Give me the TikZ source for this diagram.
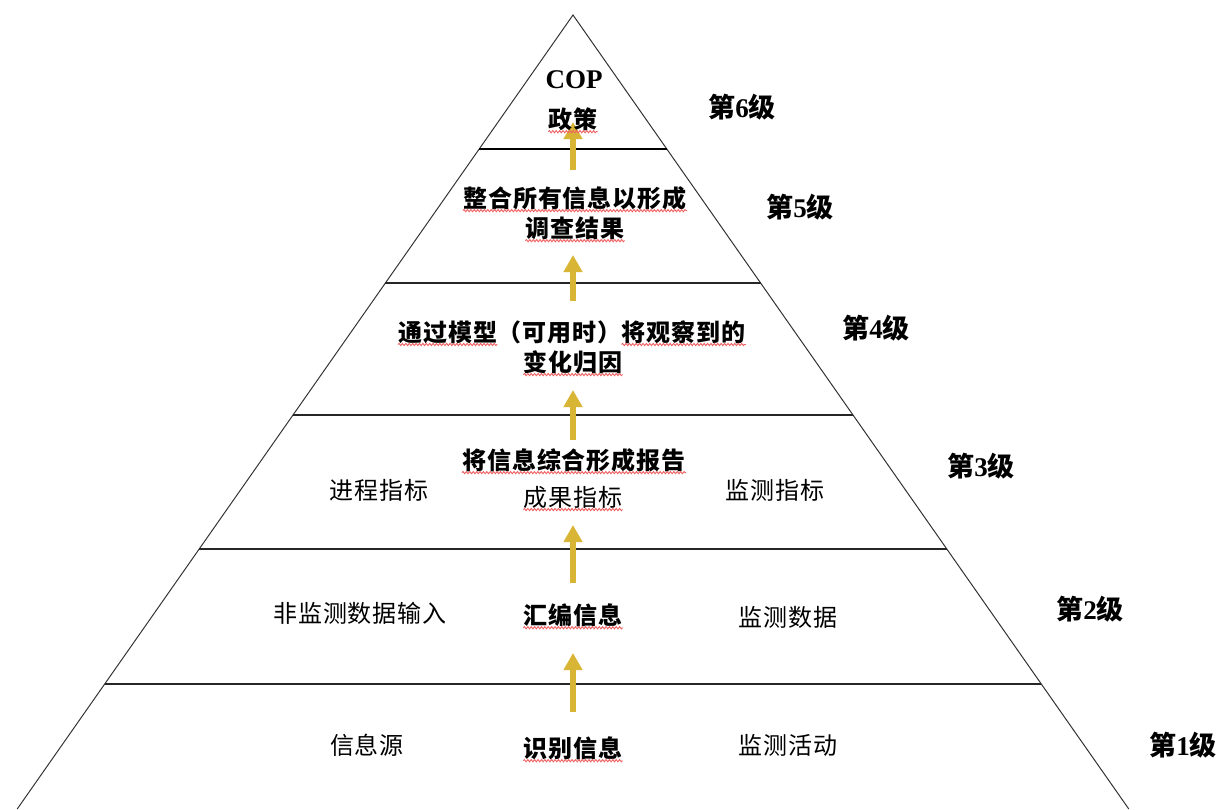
\documentclass[tikz,border=0pt]{standalone}
\usepackage{fontspec}
\newfontfamily\cjk{Noto Sans CJK SC}
\newfontfamily\cjksp{Noto Sans CJK SC}[LetterSpace=4]
\newfontfamily\tms{Liberation Serif}
\usetikzlibrary{arrows.meta,decorations.pathmorphing}
\definecolor{gold}{HTML}{D9B536}
\definecolor{squig}{HTML}{F06060}
\tikzset{
  txt/.style={inner sep=0pt, font=\cjksp\fontsize{24}{27}\selectfont},
  btxt/.style={inner sep=0pt, font=\cjksp\bfseries\fontsize{24}{27}\selectfont},
  lvl/.style={inner sep=0pt, font=\cjk\bfseries\fontsize{27}{30}\selectfont},
  edge/.style={line width=1pt, black!80},
  tier/.style={line width=1.8pt, black!85},
  uparrow/.style={gold, line width=6pt, -{Triangle[width=18pt,length=17pt]}},
  wavy/.style={squig, line width=0.9pt, decorate, decoration={snake, segment length=3.4pt, amplitude=1.1pt}}
}
\newcommand{\wv}[1]{\draw[wavy] ([yshift=-3.5pt]#1.base west) -- ([yshift=-3.5pt]#1.base east);}
\begin{document}
\begin{tikzpicture}[x=1pt,y=-1pt]
\useasboundingbox (0,0) rectangle (1222,809);
\fill[white] (0,0) rectangle (1222,809);
% pyramid outline
\coordinate (apex) at (573,15);
\coordinate (bl) at (17.2,809);
\coordinate (br) at (1128.8,809);
\draw[edge] (bl) -- (apex) -- (br);
% tier lines
\coordinate (l5) at (479.2,149);  \coordinate (r5) at (666.8,149);
\coordinate (l4) at (385.4,283);  \coordinate (r4) at (760.6,283);
\coordinate (l3) at (293,415);    \coordinate (r3) at (853,415);
\coordinate (l2) at (199.2,549);  \coordinate (r2) at (946.8,549);
\coordinate (l1) at (104.7,684);  \coordinate (r1) at (1041.3,684);
\draw[line width=2.6pt] (l5) -- (r5);
\draw[tier] (l4) -- (r4);
\draw[tier] (l3) -- (r3);
\draw[tier] (l2) -- (r2);
\draw[tier] (l1) -- (r1);
% arrows
\coordinate (a1s) at (573,170); \coordinate (a1e) at (573,122);
\coordinate (a2s) at (573,301); \coordinate (a2e) at (573,255);
\coordinate (a3s) at (573,440); \coordinate (a3e) at (573,390);
\coordinate (a4s) at (573,583); \coordinate (a4e) at (573,525);
\coordinate (a5s) at (573,712); \coordinate (a5e) at (573,653);
\draw[uparrow] (a1s) -- (a1e);
\draw[uparrow] (a2s) -- (a2e);
\draw[uparrow] (a3s) -- (a3e);
\draw[uparrow] (a4s) -- (a4e);
\draw[uparrow] (a5s) -- (a5e);
% level 6
\node[inner sep=0pt, font=\tms\bfseries\fontsize{27}{29}\selectfont] (cop) at (574,80) {COP};
\node[btxt] (t6) at (573,119) {政策};
\node[lvl] (g6) at (742,107) {第{\tms 6}级};
% level 5
\node[btxt] (t5a) at (575,198) {整合所有信息以形成};
\node[btxt] (t5b) at (575,228) {调查结果};
\node[lvl] (g5) at (800,207) {第{\tms 5}级};
% level 4
\node[btxt, anchor=base west] (t4a) at (398,341) {通过模型};
\node[btxt, anchor=base west] (t4b) at (t4a.base east) {（可用时）};
\node[btxt, anchor=base west] (t4c) at (t4b.base east) {将观察到的};
\node[btxt] (t4d) at (573,362) {变化归因};
\node[lvl] (g4) at (876,328) {第{\tms 4}级};
% level 3
\node[btxt] (t3a) at (574,460) {将信息综合形成报告};
\node[txt] (t3b) at (573,497) {成果指标};
\node[txt] (t3l) at (379,490) {进程指标};
\node[txt] (t3r) at (775,490) {监测指标};
\node[lvl] (g3) at (981,466) {第{\tms 3}级};
% level 2
\node[txt] (t2l) at (360,613) {非监测数据输入};
\node[btxt] (t2c) at (573,615) {汇编信息};
\node[txt] (t2r) at (788,617) {监测数据};
\node[lvl] (g2) at (1090,609) {第{\tms 2}级};
% level 1
\node[txt] (t1l) at (367,745) {信息源};
\node[btxt] (t1c) at (573,748) {识别信息};
\node[txt] (t1r) at (788,745) {监测活动};
\node[lvl] (g1) at (1183,745) {第{\tms 1}级};
% spell-check squiggles
\wv{t6}
\wv{t5a}
\wv{t5b}
\wv{t4a}
\wv{t4c}
\wv{t4d}
\wv{t3a}
\wv{t3b}
\wv{t2c}
\wv{t1c}
\end{tikzpicture}
\end{document}
